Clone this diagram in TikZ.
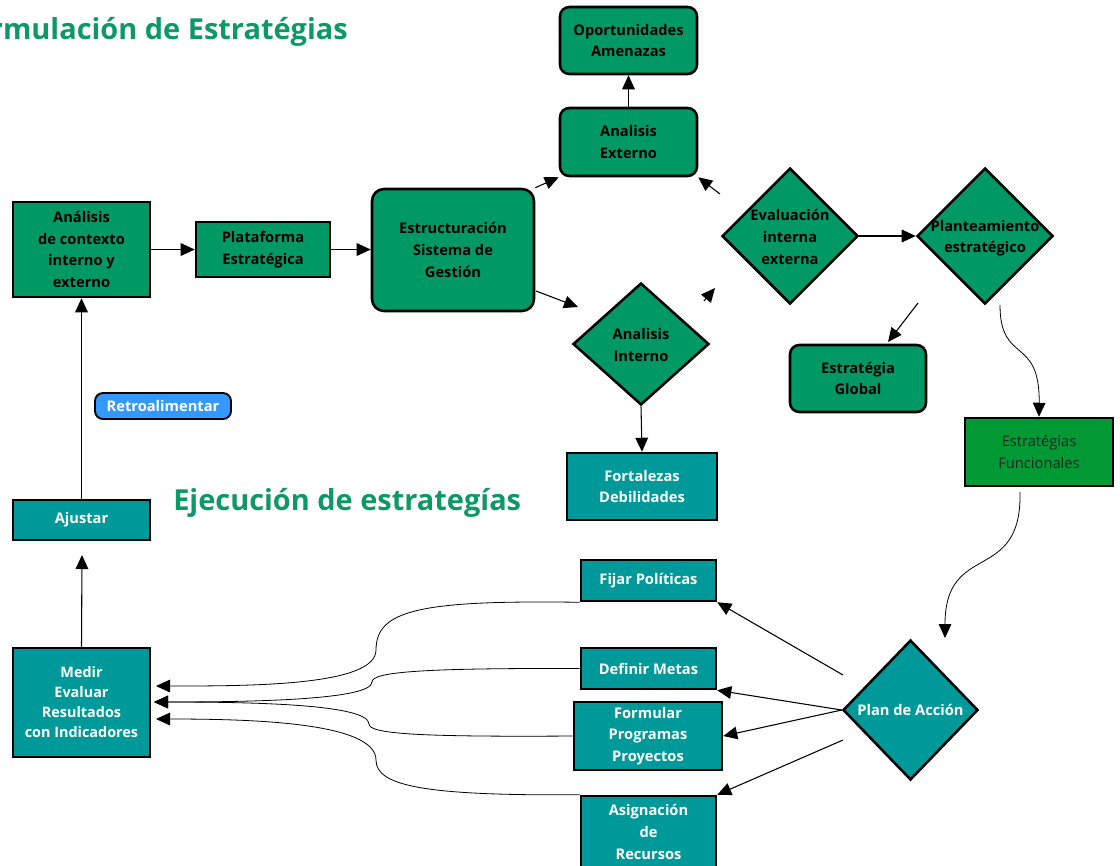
\documentclass[tikz,border=0pt]{standalone}
\usepackage{fontspec}
\setmainfont{Open Sans}
\usetikzlibrary{shapes.geometric,arrows.meta,calc}
\definecolor{gbox}{HTML}{009966}
\definecolor{tbox}{HTML}{009999}
\definecolor{fbox}{HTML}{009933}
\definecolor{rblue}{HTML}{3399FF}
\definecolor{ttl}{HTML}{0D9966}
\begin{document}
\begin{tikzpicture}[x=0.75pt,y=-0.75pt,
  lbl/.style={font=\bfseries\fontsize{11}{16.2}\selectfont, align=center},
  gsq/.style={draw=black, line width=1.9pt, fill=gbox, lbl, inner sep=0pt},
  grd/.style={gsq, rounded corners=7pt},
  tsq/.style={draw=black, line width=1.9pt, fill=tbox, lbl, text=white, inner sep=0pt},
  dia/.style={diamond, aspect=1, draw=black, line width=1.9pt, inner sep=0pt},
  arr/.style={-{Triangle[length=10.5pt,width=9.5pt]}, line width=0.8pt},
  cur/.style={-{Triangle[length=10.5pt,width=9.5pt]}, line width=0.6pt},
  ttlstyle/.style={font=\bfseries\fontsize{21.7}{24}\selectfont, text=ttl, inner sep=0pt}
]
\useasboundingbox (0,0) rectangle (1120,865);
\clip (0,0) rectangle (1120,865);

% titles
\node[ttlstyle, anchor=east] (t1) at (348,32) {Formulación de Estratégias};
\node[ttlstyle, anchor=west] (t2) at (173,503) {Ejecución de estrategías};

% formulation nodes
\node[gsq, minimum width=102.75pt, minimum height=71.25pt] (ac) at (81.5,249.5) {Análisis\\de contexto\\interno y\\externo};
\node[gsq, minimum width=100.5pt, minimum height=41.25pt] (pe) at (263,249.5) {Plataforma\\Estratégica};
\node[grd, rounded corners=9pt, minimum width=121.5pt, minimum height=91.5pt] (es) at (453,250) {Estructuración\\Sistema de\\Gestión};
\node[grd, minimum width=102.75pt, minimum height=50.25pt] (op) at (628.5,40.5) {Oportunidades\\Amenazas};
\node[grd, minimum width=102.75pt, minimum height=51pt] (ae) at (628.5,142) {Analisis\\Externo};

\node[dia, fill=gbox, minimum width=102pt, minimum height=102pt] (ev) at (790,236) {};
\node[lbl] (evt) at (790,237) {Evaluación\\interna\\externa};
\node[dia, fill=gbox, minimum width=102pt, minimum height=102pt] (pl) at (985,236) {};
\node[lbl] (plt) at (985,238) {Planteamiento\\estratégico};
\node[dia, fill=gbox, minimum width=102pt, minimum height=91.5pt] (ai) at (641,344) {};
\node[lbl] (ait) at (641,345) {Analisis\\Interno};

\node[tsq, minimum width=112.5pt, minimum height=50.25pt] (fd) at (642,486.5) {Fortalezas\\Debilidades};
\node[grd, minimum width=102pt, minimum height=50.25pt] (eg) at (858,378.5) {Estratégia\\Global};
\node[draw=black, line width=1.9pt, fill=fbox, inner sep=0pt, align=center,
      font=\fontsize{11}{16.2}\selectfont, text=black!85,
      minimum width=111pt, minimum height=51pt] (ef) at (1039,452) {Estratégias\\Funcionales};

% execution nodes
\node[dia, fill=tbox, minimum width=101.25pt, minimum height=105pt] (pa) at (910.5,710) {};
\node[lbl, text=white] (pat) at (910.5,710) {Plan de Acción};
\node[tsq, minimum width=101.25pt, minimum height=30.75pt] (fp) at (648.5,580.5) {Fijar Políticas};
\node[tsq, minimum width=101.25pt, minimum height=30.75pt] (dm) at (648.5,668.5) {Definir Metas};
\node[tsq, minimum width=111pt, minimum height=51pt] (fo) at (648,736) {Formular\\Programas\\Proyectos};
\node[tsq, minimum width=101.25pt, minimum height=54pt] (as) at (648.5,832) {Asignación\\de\\Recursos};
\node[tsq, font=\fontseries{sb}\selectfont\fontsize{10.8}{15}\selectfont, minimum width=102.75pt, minimum height=81.75pt] (me) at (81.5,702.5) {Medir\\Evaluar\\Resultados\\con Indicadores};
\node[tsq, minimum width=102.75pt, minimum height=30pt] (aj) at (81.5,520) {Ajustar};
\node[draw=black, line width=1.4pt, fill=rblue, rounded corners=6pt, lbl, text=white,
      inner sep=0pt, minimum width=102pt, minimum height=19.5pt] (rt) at (163,406) {Retroalimentar};

% free coordinates
\coordinate (c1) at (536,291);
\coordinate (c2) at (578,307);
\coordinate (c3) at (720,194);
\coordinate (c4) at (704,301);
\coordinate (c5) at (715,288);
\coordinate (c6) at (918,303);
\coordinate (c7) at (888,342);
\coordinate (c8) at (1000,305);
\coordinate (c9) at (1020,492);
\coordinate (c10) at (945,638);
\coordinate (c11) at (843,675);
\coordinate (c12) at (843,740);
\coordinate (c13) at (82,555);
\coordinate (m1) at (156,686);
\coordinate (m2) at (154,702);
\coordinate (m3) at (156,719);

% formulation connectors
\draw[arr] (ac.east |- pe.west) -- (pe.west);
\draw[arr] (pe.east) -- (es.west |- pe.east);
\draw[arr] (es.north east) -- (ae.south west);
\draw[arr] (c1) -- (c2);
\draw[arr] (ae.north) -- (op.south);
\draw[arr] (c3) -- (ae.south east);
\draw[arr] (c4) -- (c5);
\draw[arr] (ev.east) -- (pl.west);
\draw[arr] (ai.south) -- (fd.north);
\draw[arr] (c6) -- (c7);
\draw[cur] (c8) .. controls (1000,365) and (1040,335) .. (ef.north);
\draw[cur] (c9) .. controls (1022,585) and (945,540) .. (c10);
\draw[arr] (aj.north) -- (ac.south);
\draw[arr] (me.north) -- (c13);

% execution connectors
\draw[arr] (c11) -- (fp.south east);
\draw[arr] (pa.west) -- (dm.south east);
\draw[arr] (pa.west) -- (fo.east);
\draw[arr] (c12) -- (as.north east);

\draw[cur] (fp.south west) .. controls (420,600) and (376,610) .. (376,650)
  .. controls (376,686) and (250,686) .. (m1);
\draw[cur] (dm.west) .. controls (420,668) and (372,672) .. (372,682)
  .. controls (372,700) and (250,702) .. (m2);
\draw[cur] (fo.west) .. controls (420,737) and (369,734) .. (369,724)
  .. controls (369,704) and (250,702) .. (m2);
\draw[cur] (as.north west) .. controls (420,796) and (376,785) .. (376,760)
  .. controls (376,722) and (250,719) .. (m3);
\end{tikzpicture}
\end{document}
